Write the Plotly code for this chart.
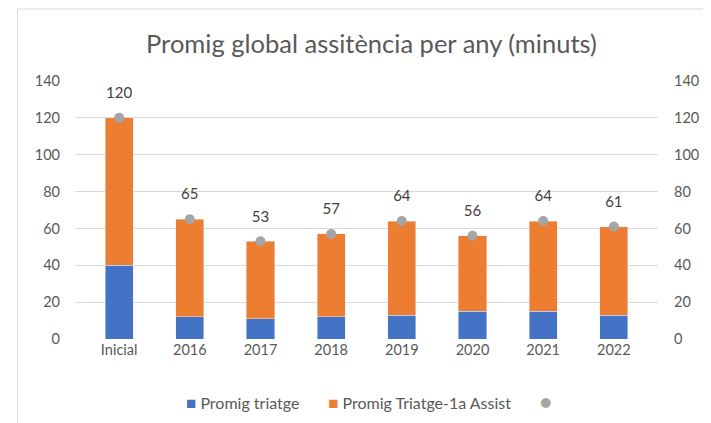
import plotly.graph_objects as go

categories = ["Inicial", "2016", "2017", "2018", "2019", "2020", "2021", "2022"]
triatge = [40, 12, 11, 12, 13, 15, 15, 13]
triatge_assist = [80, 53, 42, 45, 51, 41, 49, 48]
total = [120, 65, 53, 57, 64, 56, 64, 61]
tick_vals = [0, 20, 40, 60, 80, 100, 120, 140]
series_names = ["Promig triatge", "Promig Triatge-1a Assist", ""]
series_colors = ["#4472C4", "#ED7D31", "#A5A5A5"]

FONT = "Lato"
GRAY = "#595959"

fig = go.Figure()
fig.add_trace(go.Bar(x=categories, y=triatge, name=series_names[0],
                     marker=dict(color=series_colors[0]), width=0.4))
fig.add_trace(go.Bar(x=categories, y=triatge_assist, name=series_names[1],
                     marker=dict(color=series_colors[1]), width=0.4))
fig.add_trace(go.Scatter(x=categories, y=total, name=series_names[2], mode="markers",
                         marker=dict(color=series_colors[2], size=10), yaxis="y2"))
# data labels above the dots
fig.add_trace(go.Scatter(x=categories, y=total, mode="markers+text", showlegend=False,
                         marker=dict(color="rgba(0,0,0,0)", size=24),
                         text=[str(v) for v in total], textposition="top center",
                         textfont=dict(family=FONT, size=15, color="#404040"),
                         hoverinfo="skip", yaxis="y2"))

axis_common = dict(range=[0, 140], tickvals=tick_vals, showline=False, zeroline=False,
                   tickfont=dict(family=FONT, size=14.5, color=GRAY))

sp = "\u00a0" * 7
legend_parts = [
    f"<span style='color:{series_colors[0]};font-size:17px'>■</span>\u00a0{series_names[0]}",
    f"<span style='color:{series_colors[1]};font-size:17px'>■</span>\u00a0{series_names[1]}",
    f"<span style='color:{series_colors[2]};font-size:20px'>●</span>",
]
legend_text = sp.join(legend_parts)

fig.update_layout(
    width=703, height=415,
    barmode="stack",
    paper_bgcolor="white", plot_bgcolor="white",
    margin=dict(l=67, r=48, t=73, b=84),
    title=dict(text="Promig global assitència per any (minuts)", x=0.517, xanchor="center",
               y=0.913, yanchor="middle",
               font=dict(family=FONT, size=25.5, color=GRAY)),
    xaxis=dict(showgrid=False, showline=False, ticks="",
               tickfont=dict(family=FONT, size=14.5, color=GRAY)),
    yaxis=dict(showgrid=True, gridcolor="#D9D9D9", gridwidth=1, ticklabelstandoff=14, **axis_common),
    yaxis2=dict(overlaying="y", side="right", showgrid=False, ticklabelstandoff=15, **axis_common),
    showlegend=False,
    annotations=[dict(text=legend_text, xref="paper", yref="paper", x=0.505, y=-0.24,
                      xanchor="center", yanchor="middle", showarrow=False,
                      font=dict(family=FONT, size=16, color=GRAY))],
    shapes=[dict(type="rect", xref="paper", yref="paper", x0=-0.0986, x1=1.2, y0=-0.5, y1=1.279,
                 line=dict(color="#D9D9D9", width=1), fillcolor="rgba(0,0,0,0)", layer="below")],
)

fig.write_html("out.html")
